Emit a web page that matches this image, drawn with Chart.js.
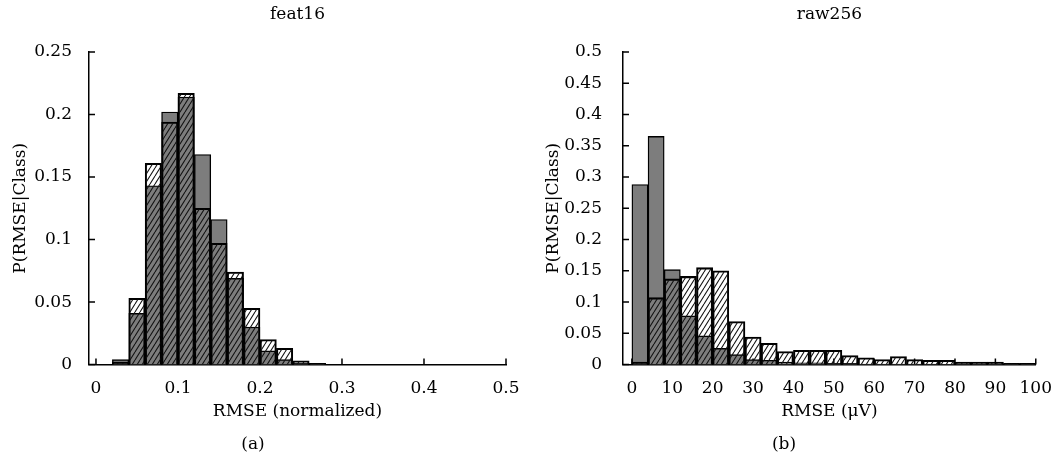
<!DOCTYPE html>
<html lang="en">
<head>
    <meta charset="UTF-8">
    <title>RMSE histograms</title>
    <script src="https://cdn.jsdelivr.net/npm/chart.js"></script>
    <style>
        body {
            margin: 0;
            background: #fff;
        }
        .panel {
            position: absolute;
            top: 0;
        }
        #feat { left: 0; }
        #raw { left: 529px; }
    </style>
</head>
<body>
    <canvas id="feat" class="panel" width="529" height="463"></canvas>
    <canvas id="raw" class="panel" width="529" height="463"></canvas>

    <script>
        // feat16: bin centres (width 0.02) and P(RMSE|Class) for both classes
        const featBins = [0.03, 0.05, 0.07, 0.09, 0.11, 0.13, 0.15, 0.17, 0.19, 0.21, 0.23, 0.25, 0.27];
        const featSolid = [0.004, 0.041, 0.143, 0.202, 0.214, 0.168, 0.116, 0.069, 0.030, 0.011, 0.004, 0.001, 0.001];
        const featHatched = [0.002, 0.053, 0.161, 0.194, 0.217, 0.125, 0.097, 0.074, 0.045, 0.020, 0.013, 0.003, 0.001];
        const featXTicks = [0, 0.1, 0.2, 0.3, 0.4, 0.5];
        const featYTicks = [0, 0.05, 0.1, 0.15, 0.2, 0.25];

        // raw256: bin centres (width 4 uV)
        const rawBins = [2, 6, 10, 14, 18, 22, 26, 30, 34, 38, 42, 46, 50, 54, 58, 62, 66, 70, 74, 78, 82, 86, 90, 94, 98];
        const rawSolid = [0.288, 0.365, 0.152, 0.078, 0.046, 0.026, 0.016, 0.008, 0.007, 0.004, 0.003, 0.003, 0.002,
                          0.002, 0.001, 0.001, 0.001, 0.001, 0.001, 0.0005, 0.0005, 0.0005, 0.0005, 0.0005, 0.0005];
        const rawHatched = [0.004, 0.107, 0.137, 0.141, 0.155, 0.150, 0.069, 0.044, 0.034, 0.021, 0.023, 0.023, 0.023,
                            0.0145, 0.011, 0.008, 0.013, 0.008, 0.007, 0.007, 0.004, 0.004, 0.004, 0.002, 0.002];
        const rawXTicks = [0, 10, 20, 30, 40, 50, 60, 70, 80, 90, 100];
        const rawYTicks = [0, 0.05, 0.1, 0.15, 0.2, 0.25, 0.3, 0.35, 0.4, 0.45, 0.5];

        Chart.defaults.font.family = '"DejaVu Serif", serif';
        Chart.defaults.font.size = 17;
        Chart.defaults.color = '#000';

        // diagonal "/" hatching on a transparent tile, so the grey bars show through
        function hatchPattern(ctx) {
            const w = 5, h = 8;
            const tile = document.createElement('canvas');
            tile.width = w;
            tile.height = h;
            const t = tile.getContext('2d');
            t.strokeStyle = '#111';
            t.lineWidth = 1.1;
            for (const dx of [-w, 0, w]) {
                t.beginPath();
                t.moveTo(dx, h);
                t.lineTo(dx + w, 0);
                t.stroke();
            }
            return ctx.createPattern(tile, 'repeat');
        }

        // short tick marks pointing into the plot area
        const innerTicks = {
            id: 'innerTicks',
            beforeDatasetsDraw(chart, args, opts) {
                const { ctx, chartArea, scales: { x, y } } = chart;
                ctx.save();
                ctx.strokeStyle = '#000';
                ctx.lineWidth = 1.5;
                ctx.beginPath();
                x.ticks.forEach(t => {
                    const px = x.getPixelForValue(t.value);
                    ctx.moveTo(px, chartArea.bottom);
                    ctx.lineTo(px, chartArea.bottom - opts.length);
                });
                y.ticks.forEach(t => {
                    const py = y.getPixelForValue(t.value);
                    ctx.moveTo(chartArea.left, py);
                    ctx.lineTo(chartArea.left + opts.length, py);
                });
                ctx.stroke();
                ctx.restore();
            }
        };

        function histogram(id, cfg) {
            const ctx = document.getElementById(id).getContext('2d');
            const points = vals => cfg.bins.map((b, i) => ({ x: b, y: vals[i] }));
            return new Chart(ctx, {
                type: 'bar',
                data: {
                    datasets: [{
                        data: points(cfg.hatched),
                        backgroundColor: hatchPattern(ctx),
                        borderColor: '#000',
                        borderWidth: 1.4,
                        order: 1
                    }, {
                        data: points(cfg.solid),
                        backgroundColor: '#7d7d7d',
                        borderColor: '#000',
                        borderWidth: 1.4,
                        order: 2
                    }]
                },
                options: {
                    responsive: false,
                    animation: false,
                    devicePixelRatio: 1,
                    layout: { padding: { left: 0, right: cfg.padRight, top: 0, bottom: 0 } },
                    datasets: { bar: { grouped: false, barPercentage: 1, categoryPercentage: 1 } },
                    scales: {
                        x: {
                            type: 'linear',
                            min: cfg.xMin,
                            max: cfg.xMax,
                            offset: false,
                            grid: { display: false, offset: false },
                            border: { color: '#000', width: 1.5 },
                            afterBuildTicks: s => { s.ticks = cfg.xTicks.map(v => ({ value: v })); },
                            afterFit: s => { s.height = 70; },
                            ticks: { padding: 6, autoSkip: false, maxRotation: 0, callback: v => String(v) },
                            title: { display: true, text: cfg.xTitle, padding: { top: 0, bottom: 13 } }
                        },
                        y: {
                            min: 0,
                            max: cfg.yMax,
                            grid: { display: false },
                            border: { color: '#000', width: 1.5 },
                            afterBuildTicks: s => { s.ticks = cfg.yTicks.map(v => ({ value: v })); },
                            afterFit: s => { s.width = cfg.axisLeft; },
                            ticks: { padding: cfg.tickPad, autoSkip: false, callback: v => String(v) },
                            title: { display: true, text: 'P(RMSE|Class)', padding: { top: cfg.yTitlePad, bottom: 0 } }
                        }
                    },
                    plugins: {
                        legend: { display: false },
                        tooltip: { enabled: false },
                        title: {
                            display: true,
                            text: cfg.title,
                            fullSize: false,
                            font: { weight: 'normal' },
                            padding: { top: 4, bottom: 27.6 }
                        },
                        subtitle: {
                            display: true,
                            text: cfg.caption,
                            position: 'bottom',
                            font: { size: 17 },
                            color: '#000',
                            padding: { top: 0, bottom: 8 }
                        },
                        innerTicks: { length: 6 }
                    }
                },
                plugins: [innerTicks]
            });
        }

        histogram('feat', {
            bins: featBins, solid: featSolid, hatched: featHatched,
            xTicks: featXTicks, yTicks: featYTicks,
            xMin: -0.0085, xMax: 0.5, yMax: 0.25,
            axisLeft: 89, padRight: 23, tickPad: 9, yTitlePad: 10,
            title: 'feat16', xTitle: 'RMSE (normalized)', caption: '(a)'
        });

        histogram('raw', {
            bins: rawBins, solid: rawSolid, hatched: rawHatched,
            xTicks: rawXTicks, yTicks: rawYTicks,
            xMin: -2.2, xMax: 100, yMax: 0.5,
            axisLeft: 94, padRight: 19, tickPad: 13, yTitlePad: 14,
            title: 'raw256', xTitle: 'RMSE (\u03bcV)', caption: '(b)'
        });
    </script>
</body>
</html>
